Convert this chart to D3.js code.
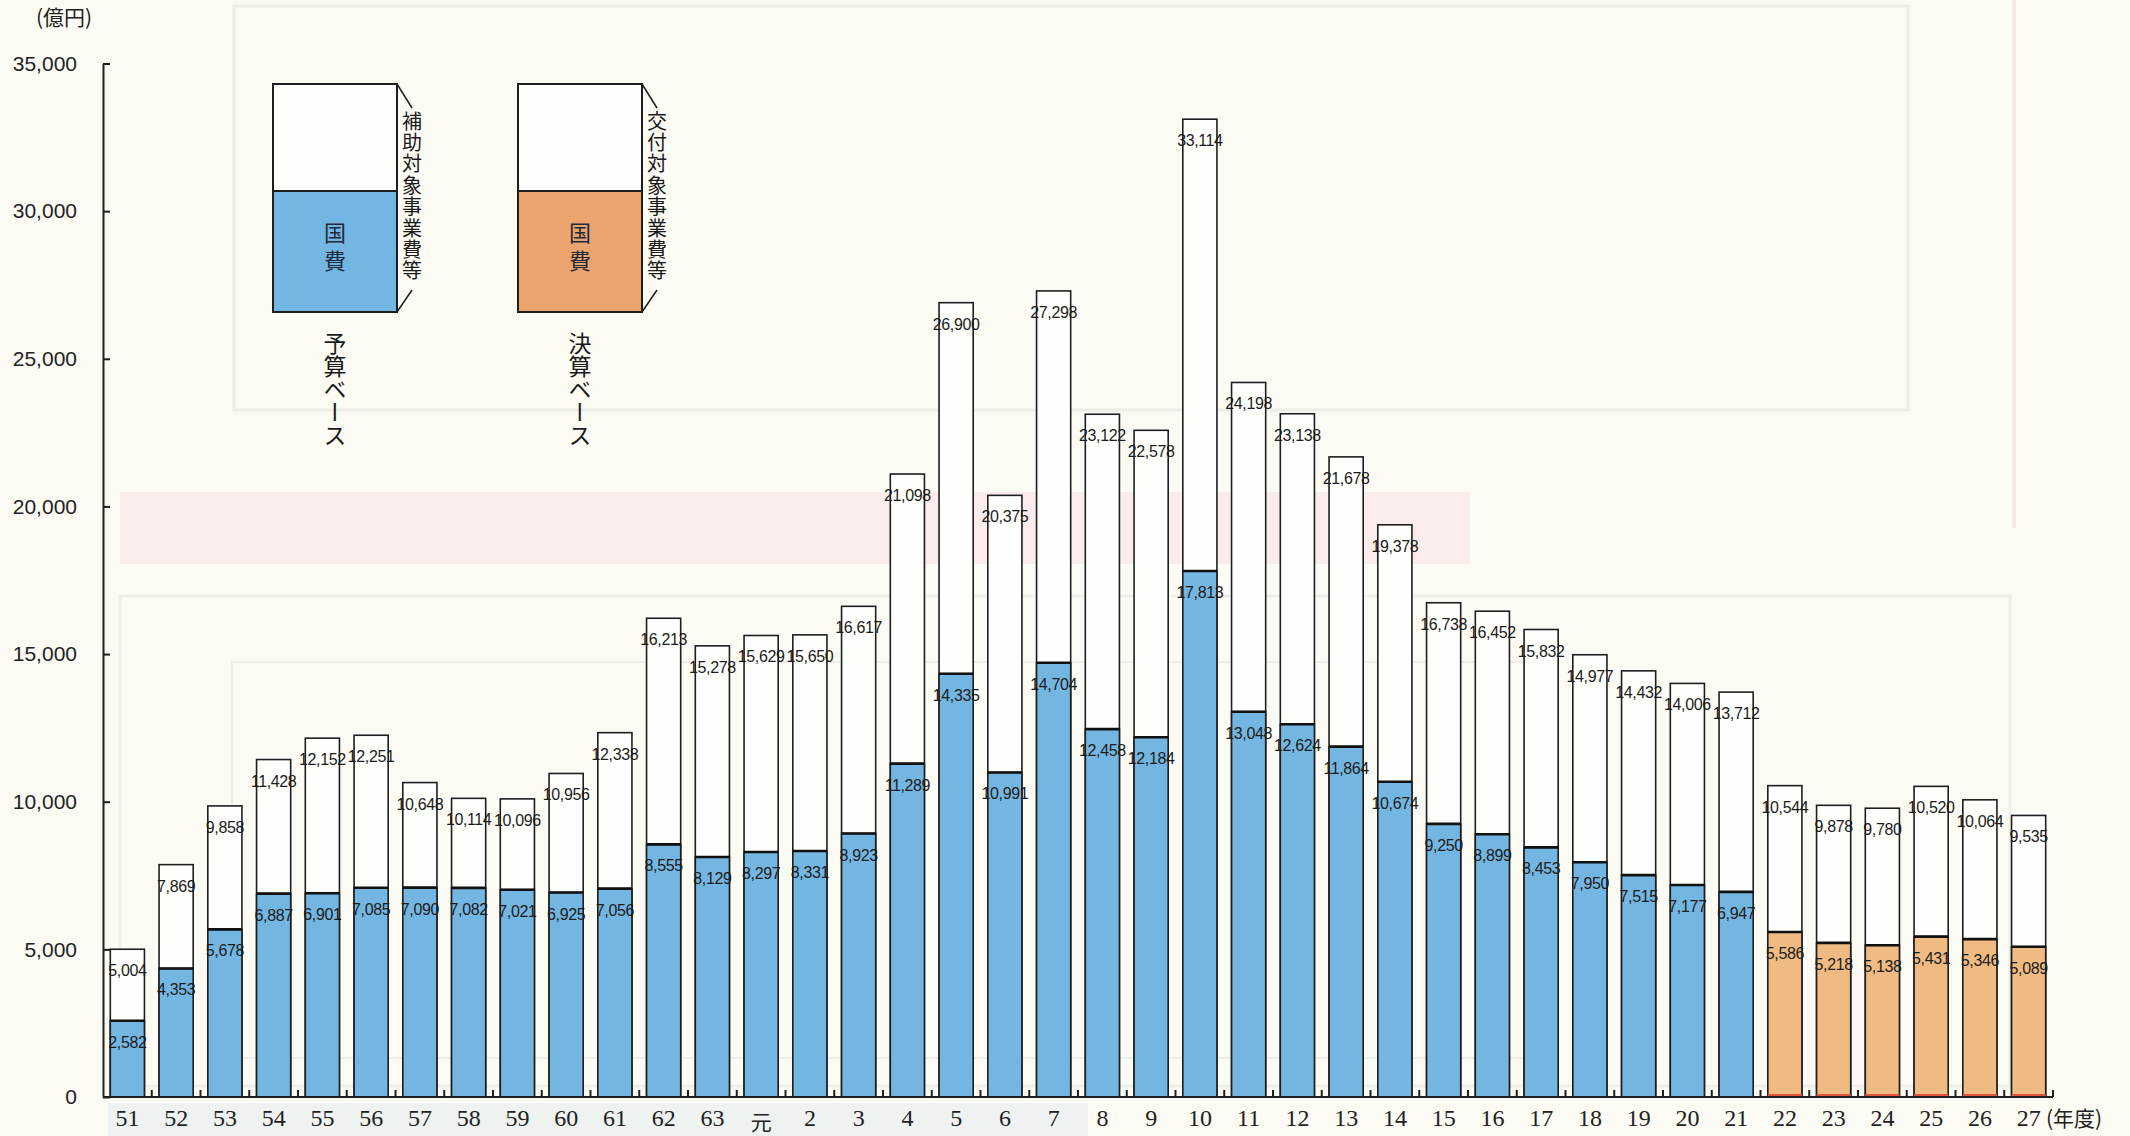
<!DOCTYPE html>
<html lang="ja">
<head>
<meta charset="utf-8">
<script src="https://cdn.jsdelivr.net/npm/d3@7"></script>
<style>
  html, body { margin: 0; padding: 0; background: #fbfbf3; }
  svg { display: block; }
  .vt { writing-mode: vertical-rl; text-orientation: upright; }
</style>
</head>
<body>
<svg id="chart" width="2130" height="1136"></svg>
<script>
// Fiscal years (Showa 51 – Heisei 27)
const years = ["51","52","53","54","55","56","57","58","59","60","61","62","63","元",
  "2","3","4","5","6","7","8","9","10","11","12","13","14","15","16","17","18","19","20","21",
  "22","23","24","25","26","27"];

// Eligible project cost (億円): budget basis up to 21, grant-settlement basis from 22
const totalCost = [5004, 7869, 9858, 11428, 12152, 12251, 10648, 10114, 10096, 10956, 12338, 16213, 15278, 15629,
  15650, 16617, 21098, 26900, 20375, 27298, 23122, 22578, 33114, 24198, 23138, 21678, 19378, 16738, 16452, 15832,
  14977, 14432, 14006, 13712, 10544, 9878, 9780, 10520, 10064, 9535];

// National share (国費, 億円)
const nationalCost = [2582, 4353, 5678, 6887, 6901, 7085, 7090, 7082, 7021, 6925, 7056, 8555, 8129, 8297,
  8331, 8923, 11289, 14335, 10991, 14704, 12458, 12184, 17813, 13048, 12624, 11864, 10674, 9250, 8899, 8453,
  7950, 7515, 7177, 6947, 5586, 5218, 5138, 5431, 5346, 5089];

// Years reported on a settlement (決算) basis
const settlementYears = ["22","23","24","25","26","27"];

const yTicks = [0, 5000, 10000, 15000, 20000, 25000, 30000, 35000];

const COLORS = {
  budget: "#74b6e2",
  settlement: "#f0bb82",
  settlementKey: "#eca46e",
  ink: "#1e1e1e",
  paper: "#fbfbf3"
};

const rows = years.map((y, i) => ({
  year: y, total: totalCost[i], national: nationalCost[i],
  settled: settlementYears.includes(y)
}));

const svg = d3.select("#chart");
const W = 2130, H = 1136;
const plot = { left: 103, right: 2053, top: 63.5, bottom: 1097 };

svg.append("rect").attr("width", W).attr("height", H).attr("fill", COLORS.paper);

// faint paper show-through from the reverse side
const ghost = svg.append("g").attr("fill", "none");
ghost.append("rect").attr("x", 234).attr("y", 6).attr("width", 1674).attr("height", 404)
  .attr("stroke", "#ededE7").attr("stroke-width", 3);
ghost.append("rect").attr("x", 120).attr("y", 492).attr("width", 1350).attr("height", 72)
  .attr("fill", "#faecea").attr("stroke", "none");
ghost.append("rect").attr("x", 120).attr("y", 596).attr("width", 1890).attr("height", 490)
  .attr("stroke", "#efefe9").attr("stroke-width", 3);
ghost.append("rect").attr("x", 232).attr("y", 662).attr("width", 1310).attr("height", 396)
  .attr("stroke", "#eeeee8").attr("stroke-width", 2);
ghost.append("line").attr("x1", 2014).attr("x2", 2014).attr("y1", 0).attr("y2", 528)
  .attr("stroke", "#f6e6e4").attr("stroke-width", 4);
ghost.append("rect").attr("x", 108).attr("y", 1103).attr("width", 980).attr("height", 33)
  .attr("fill", "#eef2f0").attr("stroke", "none");

const x = d3.scaleBand().domain(years)
  .range([plot.left, plot.right])
  .paddingInner(0.3).paddingOuter(0.15);

const y = d3.scaleLinear().domain([0, 35000]).range([plot.bottom, plot.top]);

// y axis: ticks point inward
const yAxis = d3.axisLeft(y).tickValues(yTicks).tickSize(-7).tickSizeOuter(0).tickPadding(26)
  .tickFormat(d3.format(","));
const gy = svg.append("g").attr("transform", `translate(${plot.left},0)`).call(yAxis);
gy.select(".domain").attr("stroke", COLORS.ink).attr("stroke-width", 2);
gy.selectAll(".tick line").attr("stroke", COLORS.ink).attr("stroke-width", 2);
gy.selectAll(".tick text").attr("fill", "#222")
  .style("font-family", "'Liberation Sans', Arial, sans-serif").style("font-size", "21px");

// bars
const bars = svg.append("g");
const g = bars.selectAll("g.bar").data(rows).join("g").attr("class", "bar");

g.append("rect")
  .attr("x", d => x(d.year)).attr("width", x.bandwidth())
  .attr("y", d => y(d.total)).attr("height", d => y(0) - y(d.total))
  .attr("fill", "#fefefb").attr("stroke", COLORS.ink).attr("stroke-width", 1.6);

g.append("rect")
  .attr("x", d => x(d.year)).attr("width", x.bandwidth())
  .attr("y", d => y(d.national)).attr("height", d => y(0) - y(d.national))
  .attr("fill", d => d.settled ? COLORS.settlement : COLORS.budget)
  .attr("stroke", COLORS.ink).attr("stroke-width", 1.6);

g.append("line")
  .attr("x1", d => x(d.year)).attr("x2", d => x(d.year) + x.bandwidth())
  .attr("y1", d => y(d.national)).attr("y2", d => y(d.national))
  .attr("stroke", "#111").attr("stroke-width", 2.6);

// reddish base under settlement-basis bars
g.filter(d => d.settled).append("line")
  .attr("x1", d => x(d.year)).attr("x2", d => x(d.year) + x.bandwidth())
  .attr("y1", y(0) - 1.5).attr("y2", y(0) - 1.5)
  .attr("stroke", "#e2553a").attr("stroke-width", 3);

const fmt = d3.format(",");
const labelFont = "'Liberation Sans', Arial, sans-serif";
function valueLabel(sel, key) {
  sel.append("text")
    .attr("x", d => x(d.year) + x.bandwidth() / 2)
    .attr("y", d => y(d[key]) + 27)
    .attr("text-anchor", "middle")
    .style("font-family", labelFont).style("font-size", "16px").style("letter-spacing", "-0.4px")
    .attr("fill", "#1c1c1c")
    .text(d => fmt(d[key]));
}
valueLabel(g, "total");
valueLabel(g, "national");

// x axis
const xAxis = d3.axisBottom(x).tickSize(0).tickPadding(12);
const gx = svg.append("g").attr("transform", `translate(0,${plot.bottom})`).call(xAxis);
gx.select(".domain").remove();
gx.selectAll(".tick text").attr("fill", "#222")
  .style("font-family", d => d === "元" ? "'Noto Sans CJK JP', sans-serif" : "'Liberation Serif', 'DejaVu Serif', serif")
  .style("font-size", d => d === "元" ? "21px" : "24px")
  .attr("dy", d => d === "元" ? "0.98em" : "0.71em");

svg.append("line")
  .attr("x1", plot.left).attr("x2", plot.right)
  .attr("y1", plot.bottom).attr("y2", plot.bottom)
  .attr("stroke", COLORS.ink).attr("stroke-width", 2);

// small upward ticks at the boundaries between years
const boundaries = years.map(yr => x(yr) + x.bandwidth() + x.step() * x.paddingInner() / 2);
svg.append("g").selectAll("line").data(boundaries).join("line")
  .attr("x1", d => d).attr("x2", d => d)
  .attr("y1", plot.bottom).attr("y2", plot.bottom - 7)
  .attr("stroke", COLORS.ink).attr("stroke-width", 2);

// unit captions
const jp = "'Noto Sans CJK JP', sans-serif";
svg.append("text").attr("x", 36).attr("y", 25).text("(億円)")
  .style("font-family", jp).style("font-size", "21px").attr("fill", "#222");
svg.append("text").attr("x", 2046).attr("y", 1126).text("(年度)")
  .style("font-family", jp).style("font-size", "21px").attr("fill", "#222");

// legend
function legendKey(x0, fill, sideLabel, baseLabel) {
  const k = svg.append("g");
  const w = 124, top = 84, mid = 191, bottom = 312;
  k.append("rect").attr("x", x0).attr("y", top).attr("width", w).attr("height", bottom - top)
    .attr("fill", "#fefefb").attr("stroke", COLORS.ink).attr("stroke-width", 2);
  k.append("rect").attr("x", x0).attr("y", mid).attr("width", w).attr("height", bottom - mid)
    .attr("fill", fill).attr("stroke", COLORS.ink).attr("stroke-width", 2);
  const cx = x0 + w / 2;
  k.append("text").attr("class", "vt").attr("x", cx).attr("y", 222).text("国費")
    .style("font-family", jp).style("font-size", "22px").attr("fill", "#1c2a3a")
    .style("letter-spacing", "6px");
  const bx = x0 + w + 15;
  k.append("path").attr("d", `M${x0 + w},${top} L${bx},${top + 24}`)
    .attr("stroke", COLORS.ink).attr("stroke-width", 1.5).attr("fill", "none");
  k.append("path").attr("d", `M${bx},${bottom - 22} L${x0 + w},${bottom}`)
    .attr("stroke", COLORS.ink).attr("stroke-width", 1.5).attr("fill", "none");
  k.append("text").attr("class", "vt").attr("x", bx).attr("y", 111).text(sideLabel)
    .style("font-family", jp).style("font-size", "20px").attr("fill", "#1a1a1a")
    .style("letter-spacing", "1.4px");
  k.append("text").attr("class", "vt").attr("x", cx).attr("y", 332).text(baseLabel)
    .style("font-family", jp).style("font-size", "23px").attr("fill", "#1a1a1a");
}
legendKey(273, COLORS.budget, "補助対象事業費等", "予算ベース");
legendKey(518, COLORS.settlementKey, "交付対象事業費等", "決算ベース");
</script>
</body>
</html>
